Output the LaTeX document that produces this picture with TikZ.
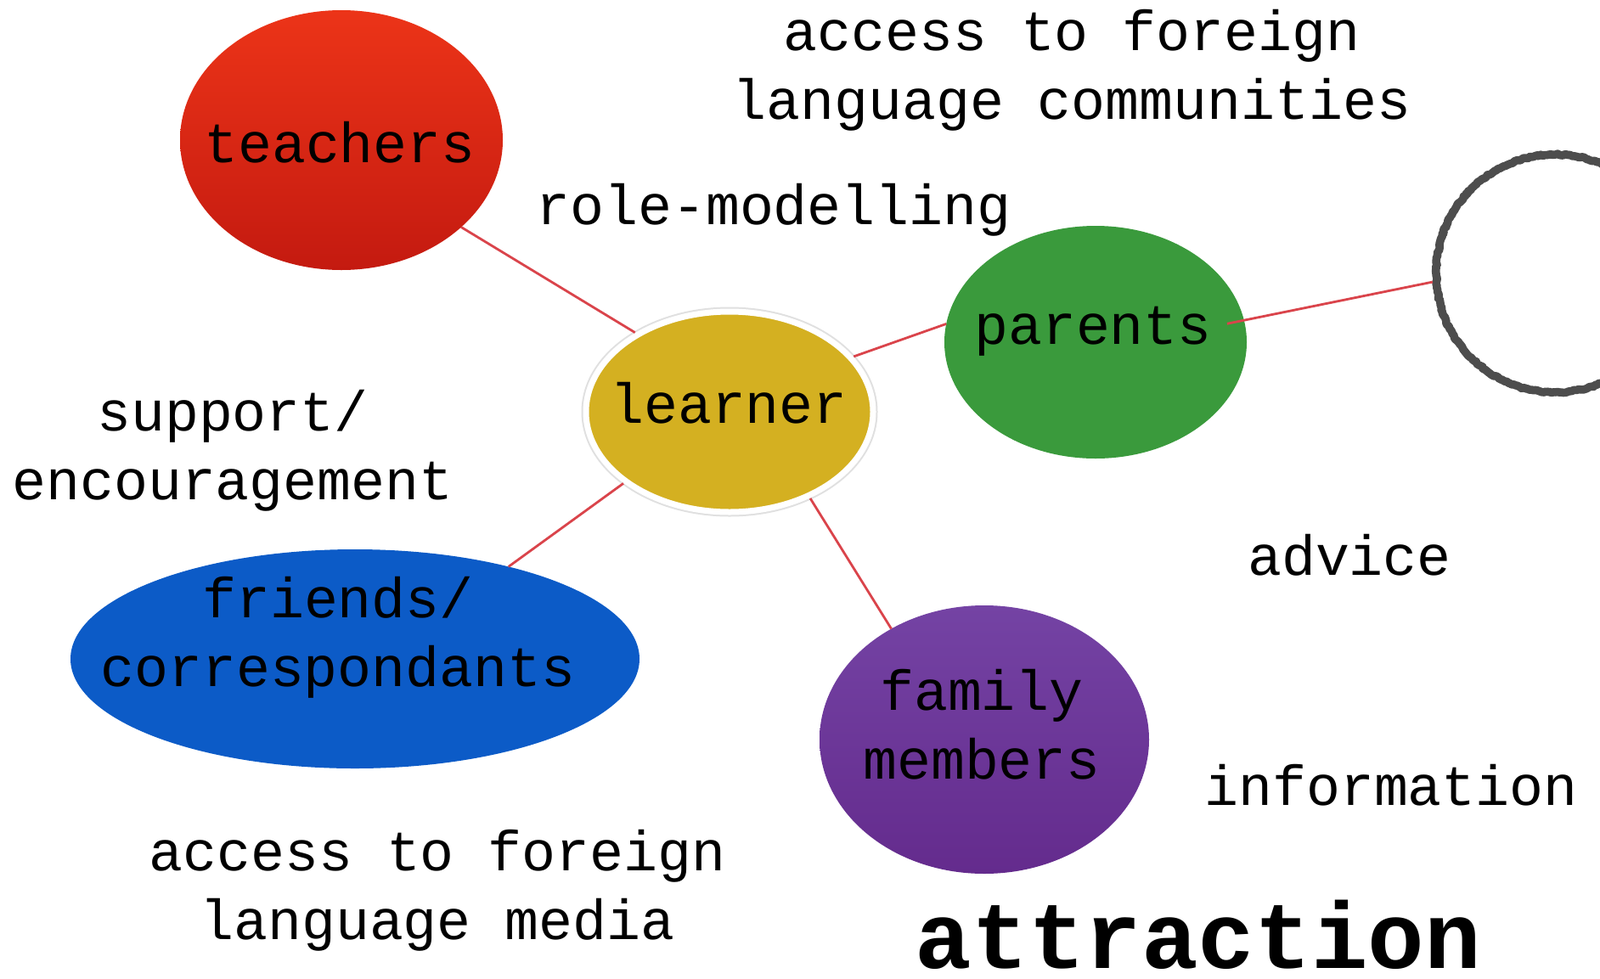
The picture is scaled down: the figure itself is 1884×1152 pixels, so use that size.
\documentclass[tikz,border=0pt]{standalone}
\usepackage{fontspec}
\setmainfont{Liberation Mono}
\usetikzlibrary{shapes.geometric,calc,decorations.pathmorphing}
\definecolor{tred1}{HTML}{EC3418}
\definecolor{tred2}{HTML}{C41A10}
\definecolor{lgold}{HTML}{D4B021}
\definecolor{pgreen}{HTML}{3A9A3C}
\definecolor{fblue}{HTML}{0C5BC7}
\definecolor{fam1}{HTML}{7443A4}
\definecolor{fam2}{HTML}{642B8D}
\definecolor{linkred}{HTML}{DA444B}
\definecolor{ringgray}{HTML}{4D4D4D}
\begin{document}
\begin{tikzpicture}[x=0.5pt,y=-0.5pt,
  blob/.style={ellipse, inner sep=0pt, outer sep=0pt},
  lbl/.style={anchor=base, align=center, inner sep=0pt, font=\fontsize{33.3pt}{40.5pt}\selectfont},
  big/.style={anchor=base, inner sep=0pt, text depth=0pt, font=\fontsize{55.5pt}{60pt}\selectfont\bfseries},
  link/.style={draw=linkred, line width=1.4pt}]
\clip (0,0) rectangle (1884,1152);
\fill[white] (0,0) rectangle (1884,1152);
% shapes
\node[blob, minimum width=190pt, minimum height=153pt, top color=tred1, bottom color=tred2] (teachers) at (402,165) {};
\node[blob, minimum width=169pt, minimum height=118pt, fill=lgold, draw=white, line width=3.5pt, outer sep=2pt,
  preaction={draw=black!12, line width=5.5pt}] (learner) at (859,485) {};
\node[blob, minimum width=178pt, minimum height=137pt, fill=pgreen] (parents) at (1290,403) {};
\node[circle, inner sep=0pt, outer sep=2.3pt, minimum size=140pt, draw=ringgray, line width=4.8pt, line join=round,
  decorate, decoration={random steps, segment length=1.2pt, amplitude=0.45pt}] (ring) at (1831,322) {};
\node[blob, minimum width=335pt, minimum height=129pt, fill=fblue] (friends) at (418,776) {};
\node[blob, minimum width=194pt, minimum height=158pt, top color=fam1, bottom color=fam2] (family) at (1159,871) {};
% connectors
\draw[link] (teachers.-36) -- (learner.140);
\draw[link] (learner.24) -- (parents.173);
\draw[link] ($(parents.center)!0.885!(parents.8)$) -- (ring.184);
\draw[link] (learner.214) -- (friends.31);
\draw[link] (learner.-47) -- (family.130);
% texts in shapes (multi-line nodes: base = last line)
\node[lbl] (tTeach) at (400,191) {teachers};
\node[lbl] (tLearn) at (858,498) {learner};
\node[lbl] (tPar) at (1287,405) {parents};
\node[lbl] (tFr) at (398,808) {friends/\\correspondants};
\node[lbl] (tFam) at (1156,917) {family\\members};
% free texts
\node[lbl] (comm) at (1262,140) {access to foreign\\language communities};
\node[lbl] (role) at (911,264) {role-modelling};
\node[lbl] (supp) at (274,588) {support/\\encouragement};
\node[lbl] (adv) at (1589,677) {advice};
\node[lbl] (info) at (1638,948) {information};
\node[lbl] (media) at (515,1106) {access to foreign\\language media};
\node[big] (attr) at (1411,1140) {attraction};
\end{tikzpicture}
\end{document}
